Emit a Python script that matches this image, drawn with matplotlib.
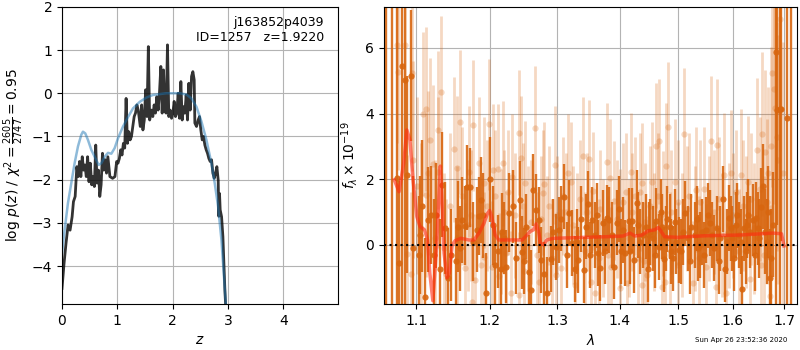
import matplotlib
matplotlib.use("Agg")
import matplotlib.pyplot as plt
import numpy as np

# --- p(z) panel ---
z_pz = [0.0, 0.037, 0.073, 0.11, 0.146, 0.183, 0.207, 0.238, 0.268, 0.293, 0.317, 0.341,
        0.366, 0.39, 0.415, 0.439, 0.463, 0.488, 0.512, 0.537, 0.561, 0.585, 0.61, 0.634,
        0.659, 0.683, 0.707, 0.732, 0.756, 0.78, 0.805, 0.829, 0.866, 0.915, 0.957, 0.988,
        1.012, 1.037, 1.061, 1.085, 1.11, 1.134, 1.159, 1.183, 1.207, 1.232, 1.256, 1.28,
        1.305, 1.329, 1.354, 1.378, 1.415, 1.44, 1.463, 1.488, 1.512, 1.537, 1.561, 1.585,
        1.618, 1.642, 1.666, 1.69, 1.714, 1.738, 1.762, 1.787, 1.811, 1.835, 1.859, 1.883,
        1.907, 1.931, 1.955, 1.98, 2.004, 2.028, 2.052, 2.076, 2.1, 2.124, 2.149, 2.173,
        2.197, 2.221, 2.245, 2.269, 2.293, 2.318, 2.342, 2.366, 2.39, 2.402, 2.432, 2.462,
        2.486, 2.51, 2.535, 2.559, 2.583, 2.607, 2.631, 2.655, 2.679, 2.704, 2.728, 2.752,
        2.776, 2.8, 2.824, 2.836, 2.848, 2.86, 2.885, 2.909, 2.927, 2.945, 2.963]
logp = [-4.52, -3.94, -3.47, -3.05, -3.17, -2.86, -2.51, -2.39, -1.70, -1.93, -1.58, -1.93,
        -1.47, -1.78, -1.66, -1.93, -1.47, -2.05, -1.62, -2.12, -1.93, -2.16, -1.20, -2.08,
        -1.78, -2.39, -2.12, -1.39, -1.78, -1.54, -1.85, -1.47, -1.93, -1.97, -1.93, -1.58,
        -1.62, -1.51, -1.31, -1.43, -1.16, -1.27, -0.12, -1.16, -0.89, -1.08, -1.00, -0.77,
        -0.54, -0.46, -0.27, -0.39, -0.77, -0.27, -0.85, -0.62, 0.08, -0.54, 1.08, -0.62,
        -0.39, -0.54, -0.27, -0.46, -0.08, -0.39, 0.0, 0.62, -0.46, 0.54, -0.42, -0.46,
        1.12, -0.54, -0.39, -0.58, -0.46, -0.19, -0.54, -0.46, 0.0, -0.58, 0.27, -0.62,
        -0.31, -0.46, -0.04, -0.62, 0.23, -0.39, 0.39, 0.50, 0.31, -0.69, -0.77, -0.62,
        -0.54, -0.85, -1.08, -1.00, -1.20, -1.31, -1.39, -1.51, -1.58, -1.54, -1.85, -1.97,
        -1.85, -1.70, -2.01, -2.85, -2.32, -2.70, -2.86, -3.32, -3.94, -4.56, -5.02]

z_tmpl = [0.0, 0.048, 0.108, 0.168, 0.228, 0.289, 0.349, 0.379, 0.421, 0.469, 0.53, 0.59,
          0.663, 0.711, 0.771, 0.832, 0.892, 0.952, 1.013, 1.103, 1.194, 1.284, 1.405, 1.526,
          1.646, 1.767, 1.888, 2.008, 2.129, 2.25, 2.34, 2.43, 2.52, 2.611, 2.701, 2.761,
          2.822, 2.882, 2.924, 2.961, 2.97]
logp_tmpl = [-3.70, -3.16, -2.54, -2.08, -1.62, -1.23, -0.96, -0.89, -0.93, -1.08, -1.31, -1.47,
             -1.66, -1.62, -1.47, -1.38, -1.40, -1.27, -1.04, -0.77, -0.55, -0.35, -0.20, -0.10,
             -0.04, -0.02, 0.0, 0.0, 0.0, -0.03, -0.12, -0.31, -0.65, -1.08, -1.62, -2.08,
             -2.62, -3.39, -4.16, -4.87, -5.16]

# --- spectrum panel: binned (dark) ---
wave_a = [1.061, 1.0696, 1.0748, 1.0783, 1.0813, 1.0852, 1.0887, 1.0930, 1.0965, 1.1032,
          1.1078, 1.1119, 1.1151, 1.1193, 1.1229, 1.1312, 1.1339, 1.1381, 1.1422, 1.1528,
          1.1564, 1.1615, 1.1651, 1.1679, 1.1725, 1.1817, 1.1844, 1.1876, 1.1950, 1.2010,
          1.2073, 1.2156, 1.2180, 1.2239, 1.2278, 1.2337, 1.2439, 1.2473, 1.2527, 1.2571,
          1.2600, 1.2634, 1.2678, 1.2756, 1.2849, 1.2898, 1.2975, 1.3064, 1.3106, 1.3149,
          1.3186, 1.3234, 1.3277, 1.3330, 1.3372, 1.3410, 1.3452, 1.3489, 1.3543, 1.3596,
          1.3638, 1.3681, 1.3729, 1.3782, 1.3824, 1.3904, 1.3947, 1.4023, 1.4080, 1.4149,
          1.4194, 1.4240, 1.4280, 1.4337, 1.4394, 1.4434, 1.4469, 1.4514, 1.4566, 1.4617,
          1.4663, 1.4709, 1.4754, 1.4811, 1.4851, 1.4909, 1.4966, 1.5012, 1.5055, 1.5115,
          1.5176, 1.5236, 1.5297, 1.5358, 1.5436, 1.5509, 1.5570, 1.5642, 1.5703, 1.5764,
          1.5812, 1.5861, 1.5921, 1.5994, 1.6059, 1.6125, 1.6178, 1.6224, 1.6270, 1.6336,
          1.6388, 1.6454, 1.6507, 1.6553, 1.6586, 1.6664, 1.6717, 1.6783, 1.6836, 1.6862,
          1.6914, 1.6947, 1.7059, 1.7145,
          1.1055, 1.1260, 1.1460, 1.1590, 1.1770, 1.1910, 1.2045, 1.2120, 1.2210, 1.2380,
          1.2500, 1.2717, 1.2800, 1.2937, 1.3030, 1.3300, 1.3510, 1.3620, 1.3760, 1.3870,
          1.3980, 1.4051, 1.4170, 1.4310, 1.4490, 1.4590, 1.4690, 1.4790, 1.4880, 1.4940,
          1.5085, 1.5205, 1.5330, 1.5400, 1.5470, 1.5540, 1.5610, 1.5735, 1.5890, 1.5960,
          1.6030, 1.6090, 1.6150, 1.6250, 1.6300, 1.6420, 1.6480, 1.6620, 1.6690, 1.6750]
flux_a = [-5.0, -5.0, 2.05, -0.56, 5.45, 5.03, 2.13, 5.15, -0.10, -0.31,
          1.19, -1.60, 0.76, 0.91, -0.30, -0.72, 1.83, 0.51, -1.00, -0.49,
          0.56, 0.76, 0.58, 1.75, 1.75, 0.46, 0.88, 1.37, -1.45, 2.00,
          -0.61, -0.74, 0.38, -0.66, 0.98, 1.17, 1.37, -0.23, 0.56, -0.81,
          -1.37, 1.68, 1.07, -0.46, -1.47, -0.42, -0.07, 0.80, 1.47, -0.31,
          0.98, 0.05, -0.74, -0.46, 0.78, -0.76, 0.56, 1.25, 0.76, 0.30,
          -0.25, -0.71, 0.66, 0.81, 0.76, -0.66, 0.68, -0.20, -0.25, 0.73,
          0.74, -0.46, 1.29, 0.10, 0.30, 0.56, -0.74, 0.40, 0.20, 0.73,
          -0.07, 0.56, -0.44, 0.78, 0.56, -0.41, 0.10, -0.15, -0.20, 0.96,
          0.20, 0.56, 0.30, -0.10, 0.40, 0.46, 0.66, -0.10, 0.50, 0.20,
          1.39, -0.74, 0.81, 0.20, 0.61, 0.30, -1.35, 0.50, 0.60, 0.40,
          0.76, 0.81, 0.20, 1.15, 1.78, 0.10, -1.02, 0.61, 5.89, 4.11,
          4.13, 4.13, 3.86, -5.0,
          0.30, 0.90, -0.30, -0.10, 0.10, 0.90, 0.60, -0.20, 0.20, -0.40,
          -0.50, 0.76, -0.90, 0.40, 0.46, 0.10, -0.30, 0.90, -0.20, 0.30,
          1.10, 0.46, -0.20, 0.60, 0.30, -0.30, 1.00, 0.20, -0.20, 0.70,
          0.40, -0.50, 0.80, 0.00, -0.30, 0.90, 0.30, -0.50, 0.10, 0.50,
          -0.40, 0.90, 0.10, -0.20, 0.90, -0.30, 0.50, 0.40, 1.00, -0.40]
err_a = [20, 12.5, 20, 2.5, 20, 20, 3.0, 2.0, 2.2, 1.8,
         2.0, 1.8, 1.6, 1.5, 1.7, 1.5, 1.6, 1.4, 1.5, 1.3,
         1.4, 1.3, 1.2, 1.3, 1.2, 1.3, 1.2, 1.3, 1.2, 1.3,
         1.2, 1.1, 1.2, 1.1, 1.2, 1.1, 1.2, 1.1, 1.0, 1.1,
         1.2, 1.1, 1.1, 1.0, 1.1, 1.0, 1.0, 1.0, 1.0, 1.0,
         1.0, 1.0, 1.0, 1.0, 1.0, 1.0, 1.0, 1.0, 1.0, 1.0,
         1.0, 1.0, 1.0, 1.0, 1.0, 1.0, 1.0, 1.0, 1.0, 1.0,
         1.0, 1.0, 1.0, 1.0, 1.0, 1.0, 1.0, 1.0, 1.0, 1.0,
         1.0, 1.0, 1.0, 1.0, 1.0, 1.0, 1.0, 1.0, 1.0, 1.0,
         1.0, 1.0, 1.0, 1.0, 1.0, 1.0, 1.0, 1.0, 1.0, 1.0,
         1.0, 1.0, 1.0, 1.0, 1.0, 1.0, 1.0, 1.0, 1.0, 1.1,
         1.1, 1.1, 1.2, 1.2, 1.3, 1.3, 1.5, 1.6, 20, 3.5,
         20, 4.0, 20, 20,
         1.8, 1.6, 1.4, 1.3, 1.2, 1.3, 1.2, 1.1, 1.1, 1.1,
         1.0, 1.0, 1.0, 1.0, 1.0, 1.0, 1.0, 1.0, 1.0, 1.0,
         1.0, 1.0, 1.0, 1.0, 1.0, 1.0, 1.0, 1.0, 1.0, 1.0,
         1.0, 1.0, 1.0, 1.0, 1.0, 1.0, 1.0, 1.0, 1.0, 1.0,
         1.0, 1.0, 1.0, 1.0, 1.1, 1.1, 1.1, 1.3, 1.4, 1.5]

# --- spectrum panel: unbinned (light) ---
wave_b = [1.0748, 1.0765, 1.0861, 1.0887, 1.0948, 1.0965, 1.0939, 1.1092, 1.1128, 1.1124,
          1.1183, 1.1216, 1.1284, 1.1289, 1.1330, 1.1367, 1.1400, 1.1500, 1.1541, 1.1550,
          1.1592, 1.1651, 1.1700, 1.1706, 1.1752, 1.1771, 1.1798, 1.1844, 1.1917, 1.1925,
          1.1985, 1.2034, 1.2044, 1.2117, 1.2132, 1.2190, 1.2200, 1.2229, 1.2302, 1.2327,
          1.2424, 1.2430, 1.2449, 1.2500, 1.2512, 1.2600, 1.2659, 1.2717, 1.2776, 1.2790,
          1.2839, 1.2961, 1.2985, 1.3000, 1.3090, 1.3170, 1.3213, 1.3277, 1.3300, 1.3394,
          1.3505, 1.3532, 1.3560, 1.3596, 1.3650, 1.3729, 1.3782, 1.3835, 1.3851, 1.3900,
          1.3995, 1.4000, 1.4109, 1.4115, 1.4183, 1.4250, 1.4366, 1.4372, 1.4400, 1.4451,
          1.4500, 1.4537, 1.4611, 1.4669, 1.4709, 1.4730, 1.4766, 1.4783, 1.4823, 1.4880,
          1.4949, 1.5000, 1.5103, 1.5150, 1.5267, 1.5327, 1.5400, 1.5509, 1.5560, 1.5600,
          1.5691, 1.5703, 1.5800, 1.5842, 1.5873, 1.5964, 1.6000, 1.6158, 1.6200, 1.6289,
          1.6322, 1.6400, 1.6467, 1.6572, 1.6600, 1.6618, 1.6664, 1.6717, 1.6750, 1.6770,
          1.6796, 1.6816, 1.6928, 1.6980,
          1.1010, 1.1060, 1.1160, 1.1250, 1.1450, 1.1620, 1.1740, 1.1880, 1.1960, 1.2080,
          1.2160, 1.2270, 1.2360, 1.2480, 1.2560, 1.2690, 1.2750, 1.2880, 1.2920, 1.3050,
          1.3130, 1.3240, 1.3350, 1.3440, 1.3470, 1.3680, 1.3800, 1.3950, 1.4050, 1.4150,
          1.4210, 1.4300, 1.4330, 1.4420, 1.4580, 1.4640, 1.4850, 1.4990, 1.5060, 1.5200,
          1.5300, 1.5370, 1.5460, 1.5640, 1.5750, 1.5920, 1.6060, 1.6110, 1.6250, 1.6350,
          1.6520, 1.6540, 1.6690, 1.6860, 1.6890]
flux_b = [6.10, 5.28, 6.10, -0.27, 5.25, 2.60, -0.90, 3.98, 4.13, 1.52,
          3.18, 2.46, 3.50, 2.21, 4.66, -0.10, -0.90, 2.91, 2.34, 0.20,
          3.74, -0.71, 0.60, 2.23, -1.73, 3.64, -1.07, 2.49, 1.90, -0.38,
          3.67, -0.66, 2.28, 2.30, -0.94, 2.49, 1.00, -0.25, -1.47, 2.08,
          3.42, -1.52, 2.65, -0.80, 1.88, 0.70, 3.56, -1.12, 1.59, 1.85,
          0.30, 2.44, -0.91, 0.90, 1.49, 2.18, 1.93, -1.22, 0.40, 2.71,
          2.61, -1.12, 1.65, -1.47, -0.40, 0.20, 2.52, 2.03, -0.66, 1.35,
          -1.32, 0.50, 1.62, -1.17, 2.23, 1.50, 1.90, -1.22, -0.50, -0.91,
          1.20, 1.93, 3.02, 3.15, -1.27, 0.95, -1.12, 2.41, 3.58, 1.00,
          1.93, -0.60, 3.38, 1.10, -1.17, 1.68, 1.30, -0.66, 0.80, 3.15,
          -1.27, 3.05, 0.30, 2.13, -1.47, 2.20, 0.90, 2.13, 1.20, 1.93,
          -1.05, 0.50, 2.89, 3.38, -0.30, 2.82, 1.32, -1.57, 3.02, 5.25,
          4.74, 4.18, 6.87, 2.18,
          1.80, 0.50, 2.20, 0.20, 1.20, 1.50, 0.90, -0.60, 1.20, 1.50,
          0.40, 1.60, 0.90, 1.20, 0.50, -0.30, 0.80, 1.20, -0.40, -0.70,
          1.00, 0.60, 1.40, -0.20, 1.00, 1.10, -0.30, 0.80, 1.30, 0.20,
          1.00, -0.40, 1.60, 0.70, 0.40, 1.50, -0.30, 1.30, 0.30, 1.50,
          0.50, -0.40, 1.70, 1.00, 1.40, 0.60, 1.60, -0.20, 0.70, 1.40,
          1.70, -0.60, 2.20, 3.30, 2.60]
err_b = [3.0, 3.0, 3.0, 3.0, 3.0, 3.0, 2.5, 2.5, 2.5, 2.5,
         2.5, 2.4, 2.4, 2.3, 2.3, 2.3, 2.3, 2.2, 2.2, 2.2,
         2.2, 2.0, 2.0, 2.0, 2.0, 2.0, 2.0, 2.0, 2.0, 2.0,
         2.0, 2.0, 2.0, 2.0, 1.9, 1.9, 1.9, 1.9, 1.9, 1.9,
         1.9, 1.9, 1.9, 1.9, 1.9, 1.9, 1.9, 1.9, 1.9, 1.9,
         1.8, 1.8, 1.8, 1.8, 1.8, 1.8, 1.8, 1.8, 1.8, 1.8,
         1.8, 1.8, 1.8, 1.8, 1.8, 1.8, 1.8, 1.8, 1.8, 1.8,
         1.8, 1.8, 1.8, 1.8, 1.8, 1.8, 1.8, 1.8, 1.8, 1.8,
         1.8, 1.8, 1.9, 1.9, 1.9, 1.9, 1.9, 1.9, 2.0, 1.9,
         1.9, 1.9, 2.0, 1.9, 1.9, 1.9, 1.9, 1.9, 1.9, 2.0,
         1.9, 2.0, 1.9, 1.9, 1.9, 1.9, 1.9, 2.0, 2.0, 2.0,
         2.0, 2.0, 2.2, 2.5, 2.4, 2.5, 2.5, 2.8, 3.0, 3.5,
         3.5, 3.5, 4.0, 4.0,
         2.7, 2.6, 2.5, 2.4, 2.2, 2.1, 2.0, 2.0, 2.0, 2.0,
         1.9, 1.9, 1.9, 1.9, 1.9, 1.9, 1.9, 1.8, 1.8, 1.8,
         1.8, 1.8, 1.8, 1.8, 1.8, 1.8, 1.8, 1.8, 1.8, 1.8,
         1.8, 1.8, 1.8, 1.8, 1.8, 1.9, 1.9, 1.9, 1.9, 1.9,
         1.9, 1.9, 1.9, 1.9, 1.9, 1.9, 1.9, 1.9, 2.0, 2.0,
         2.2, 2.3, 2.6, 3.5, 3.8]

# --- best-fit model ---
wave_m = [1.072, 1.078, 1.084, 1.088, 1.092, 1.096, 1.101, 1.105, 1.111, 1.115,
          1.118, 1.122, 1.127, 1.132, 1.134, 1.137, 1.141, 1.144, 1.148, 1.152,
          1.160, 1.171, 1.178, 1.185, 1.192, 1.197, 1.200, 1.203, 1.208, 1.213,
          1.225, 1.247, 1.252, 1.259, 1.264, 1.268, 1.272, 1.274, 1.279, 1.284,
          1.294, 1.325, 1.378, 1.405, 1.417, 1.425, 1.437, 1.448, 1.459, 1.465,
          1.469, 1.476, 1.500, 1.515, 1.551, 1.612, 1.678, 1.695, 1.700]
flux_m = [1.98, 1.62, 2.49, 3.50, 3.20, 1.98, 0.86, 0.56, 0.46, 0.15,
          -0.86, -1.70, -0.05, 2.40, 1.47, -0.25, -1.00, -0.86, 0.0, 0.13,
          0.20, 0.15, 0.15, 0.36, 0.66, 0.96, 1.05, 0.86, 0.30, 0.15,
          0.15, 0.15, 0.25, 0.41, 0.46, 0.64, 0.36, 0.07, 0.0, 0.15,
          0.20, 0.22, 0.25, 0.27, 0.36, 0.27, 0.30, 0.43, 0.46, 0.53,
          0.44, 0.25, 0.23, 0.25, 0.28, 0.30, 0.36, 0.34, -0.03]

wave_ticks = [1.1, 1.2, 1.3, 1.4, 1.5, 1.6, 1.7]

orange = "#d8660f"

fig = plt.figure(figsize=(8, 3.5), dpi=100)
ax1 = fig.add_axes([0.0775, 0.1314, 0.345, 0.849])
ax2 = fig.add_axes([0.48, 0.1314, 0.516, 0.849])

ax1.plot(z_pz, logp, color="k", alpha=0.8, lw=2)
ax1.plot(z_tmpl, logp_tmpl, color="#1f77b4", alpha=0.5, lw=1.8)
ax1.set_xlim(0, 4.99)
ax1.set_ylim(-4.88, 2)
ax1.set_xticks([0, 1, 2, 3, 4])
ax1.set_yticks([-4, -3, -2, -1, 0, 1, 2])
ax1.grid(color="0.7")
ax1.set_axisbelow(True)
ax1.set_xlabel("$z$")
ax1.set_ylabel(r"$\log\,p(z)$" + " / " + r"$\chi^2=\frac{2605}{2747}=0.95$")
ax1.text(0.95, 0.97, "j163852p4039\nID=1257   z=1.9220", transform=ax1.transAxes,
         ha="right", va="top", fontsize=9)

ax2.errorbar(wave_b, flux_b, yerr=err_b, fmt="o", color=orange, alpha=0.25,
             ms=4.5, elinewidth=2, capsize=0, mew=0)
ax2.errorbar(wave_a, flux_a, yerr=err_a, fmt="o", color=orange, alpha=0.9,
             ms=4.5, elinewidth=1.7, capsize=0, mew=0)
ax2.plot(wave_m, flux_m, color="#ff2a10", alpha=0.6, lw=2.5, zorder=5)
ax2.axhline(0, color="k", ls=":", lw=1.5, zorder=6)
ax2.set_xscale("log")
ax2.set_xlim(1.059, 1.726)
ax2.set_ylim(-1.8, 7.25)
ax2.xaxis.set_minor_locator(matplotlib.ticker.NullLocator())
ax2.set_xticks(wave_ticks)
ax2.set_xticklabels([str(w) for w in wave_ticks])
ax2.set_yticks([0, 2, 4, 6])
ax2.grid(color="0.7")
ax2.set_axisbelow(True)
ax2.set_xlabel(r"$\lambda$")
ax2.set_ylabel(r"$f_\lambda \times 10^{-19}$")

fig.text(0.984, 0.029, "Sun Apr 26 23:52:36 2020", ha="right", va="center", fontsize=5)

fig.savefig("out.png", dpi=100)
